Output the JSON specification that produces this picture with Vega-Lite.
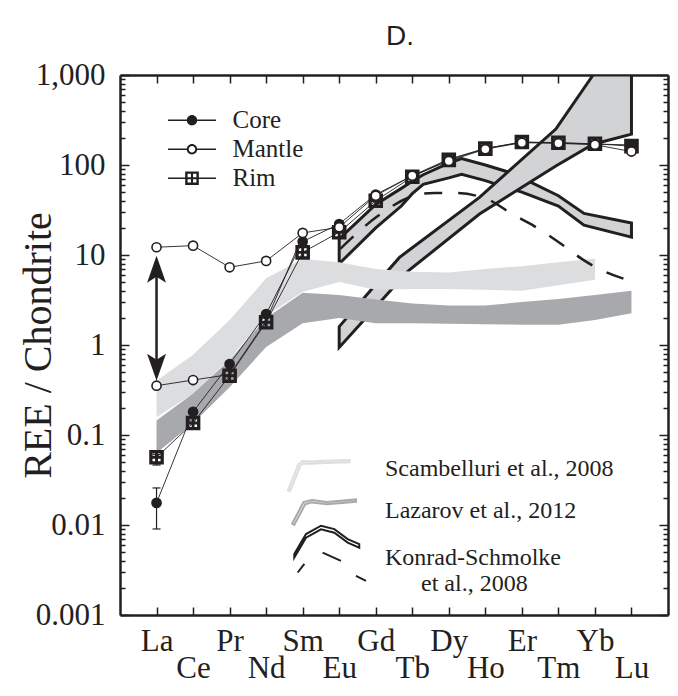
{
  "$schema": "https://vega.github.io/schema/vega-lite/v6.json",
  "width": 548,
  "height": 540,
  "autosize": "none",
  "padding": {"left": 120, "top": 75, "right": 10, "bottom": 81},
  "title": {"text": "D.", "font": "Liberation Sans", "fontSize": 28, "fontWeight": "normal", "color": "#231f20", "anchor": "middle", "offset": 25, "baseline": "alphabetic", "dx": 6, "dy": 39},
  "config": {
    "view": {"stroke": null},
    "axis": {"domainColor": "#231f20", "domainWidth": 2.5, "tickColor": "#231f20", "tickWidth": 1.5, "labelColor": "#231f20", "labelFont": "Liberation Serif", "labelFontSize": 31, "titleFont": "Liberation Serif", "titleColor": "#231f20", "grid": false}
  },
  "datasets": {
    "pts": [
      {"x": 0, "v": 0.0565, "series": "Rim", "profile": "Rim"},
      {"x": 1, "v": 0.136, "series": "Rim", "profile": "Rim"},
      {"x": 2, "v": 0.456, "series": "Rim", "profile": "Rim"},
      {"x": 3, "v": 1.79, "series": "Rim", "profile": "Rim"},
      {"x": 4, "v": 10.7, "series": "Rim", "profile": "Rim"},
      {"x": 5, "v": 17.9, "series": "Rim", "profile": "Rim"},
      {"x": 6, "v": 40, "series": "Rim", "profile": "Rim"},
      {"x": 7, "v": 74, "series": "Rim", "profile": "Rim"},
      {"x": 8, "v": 114, "series": "Rim", "profile": "Rim"},
      {"x": 9, "v": 152, "series": "Rim", "profile": "Rim"},
      {"x": 10, "v": 180, "series": "Rim", "profile": "Rim"},
      {"x": 11, "v": 177, "series": "Rim", "profile": "Rim"},
      {"x": 12, "v": 172, "series": "Rim", "profile": "Rim"},
      {"x": 13, "v": 162, "series": "Rim", "profile": "Rim"},
      {"x": 0, "v": 0.0176, "series": "Core", "profile": "Core"},
      {"x": 1, "v": 0.181, "series": "Core", "profile": "Core"},
      {"x": 2, "v": 0.615, "series": "Core", "profile": "Core"},
      {"x": 3, "v": 2.21, "series": "Core", "profile": "Core"},
      {"x": 4, "v": 14.1, "series": "Core", "profile": "Core"},
      {"x": 5, "v": 22.1, "series": "Core", "profile": "Core"},
      {"x": 6, "v": 47, "series": "Core", "profile": "Core"},
      {"x": 7, "v": 76, "series": "Core", "profile": "Core"},
      {"x": 8, "v": 116, "series": "Core", "profile": "Core"},
      {"x": 9, "v": 153, "series": "Core", "profile": "Core"},
      {"x": 10, "v": 179, "series": "Core", "profile": "Core"},
      {"x": 11, "v": 176, "series": "Core", "profile": "Core"},
      {"x": 12, "v": 171, "series": "Core", "profile": "Core"},
      {"x": 13, "v": 167, "series": "Core", "profile": "Core"},
      {"x": 0, "v": 12.2, "series": "Mantle", "profile": "MantleA"},
      {"x": 1, "v": 12.7, "series": "Mantle", "profile": "MantleA"},
      {"x": 2, "v": 7.3, "series": "Mantle", "profile": "MantleA"},
      {"x": 3, "v": 8.6, "series": "Mantle", "profile": "MantleA"},
      {"x": 4, "v": 17.6, "series": "Mantle", "profile": "MantleA"},
      {"x": 5, "v": 20.3, "series": "Mantle", "profile": "MantleA"},
      {"x": 6, "v": 45.6, "series": "Mantle", "profile": "MantleA"},
      {"x": 7, "v": 76, "series": "Mantle", "profile": "MantleA"},
      {"x": 8, "v": 111, "series": "Mantle", "profile": "MantleA"},
      {"x": 9, "v": 150, "series": "Mantle", "profile": "MantleA"},
      {"x": 10, "v": 177, "series": "Mantle", "profile": "MantleA"},
      {"x": 11, "v": 174, "series": "Mantle", "profile": "MantleA"},
      {"x": 12, "v": 168, "series": "Mantle", "profile": "MantleA"},
      {"x": 13, "v": 141, "series": "Mantle", "profile": "MantleA"},
      {"x": 0, "v": 0.353, "series": "Mantle", "profile": "MantleB"},
      {"x": 1, "v": 0.408, "series": "Mantle", "profile": "MantleB"},
      {"x": 2, "v": 0.47, "series": "Mantle", "profile": "MantleB"},
      {"x": 3, "v": 1.85, "series": "Mantle", "profile": "MantleB"},
      {"x": 4, "v": 16.5, "series": "Mantle", "profile": "MantleB"}
    ],
    "hump": [
      {"x": 5, "hi": 15.1, "lo": 8.0},
      {"x": 6, "hi": 36.5, "lo": 20},
      {"x": 6.7, "hi": 55, "lo": 35},
      {"x": 7, "hi": 66, "lo": 48},
      {"x": 7.3, "hi": 78, "lo": 61},
      {"x": 8, "hi": 105, "lo": 72},
      {"x": 8.35, "hi": 118, "lo": 79},
      {"x": 9, "hi": 100, "lo": 67},
      {"x": 9.65, "hi": 83, "lo": 55},
      {"x": 10, "hi": 72, "lo": 50},
      {"x": 11, "hi": 45.6, "lo": 35},
      {"x": 11.7, "hi": 29, "lo": 21.5},
      {"x": 13, "hi": 22.7, "lo": 15.8}
    ],
    "rise": [
      {"x": 5, "hi": 1.6, "lo": 0.94},
      {"x": 6, "hi": 4.7, "lo": 2.64},
      {"x": 6.65, "hi": 9.4, "lo": 5.2},
      {"x": 6.9, "hi": 11.2, "lo": 6.7},
      {"x": 8.84, "hi": 43.7, "lo": 28.5},
      {"x": 10.93, "hi": 251, "lo": 97.7},
      {"x": 11.95, "hi": 1000, "lo": 170},
      {"x": 13, "hi": 1000, "lo": 220}
    ],
    "refs": [
      {"ref": "Scambelluri et al., 2008", "x": 0, "hi": 0.40, "lo": 0.157},
      {"ref": "Scambelluri et al., 2008", "x": 1, "hi": 0.78, "lo": 0.29},
      {"ref": "Scambelluri et al., 2008", "x": 2, "hi": 1.9, "lo": 0.70},
      {"ref": "Scambelluri et al., 2008", "x": 3, "hi": 5.5, "lo": 2.1},
      {"ref": "Scambelluri et al., 2008", "x": 4, "hi": 9.0, "lo": 3.9},
      {"ref": "Scambelluri et al., 2008", "x": 5, "hi": 8.3, "lo": 5.0},
      {"ref": "Scambelluri et al., 2008", "x": 6, "hi": 7.0, "lo": 4.1},
      {"ref": "Scambelluri et al., 2008", "x": 7, "hi": 6.5, "lo": 4.2},
      {"ref": "Scambelluri et al., 2008", "x": 8, "hi": 6.4, "lo": 4.2},
      {"ref": "Scambelluri et al., 2008", "x": 9, "hi": 7.0, "lo": 4.1},
      {"ref": "Scambelluri et al., 2008", "x": 10, "hi": 7.5, "lo": 4.0},
      {"ref": "Scambelluri et al., 2008", "x": 11, "hi": 8.3, "lo": 4.6},
      {"ref": "Scambelluri et al., 2008", "x": 12, "hi": 9.1, "lo": 5.3},
      {"ref": "Lazarov et al., 2012", "x": 0, "hi": 0.145, "lo": 0.063},
      {"ref": "Lazarov et al., 2012", "x": 1, "hi": 0.29, "lo": 0.135},
      {"ref": "Lazarov et al., 2012", "x": 2, "hi": 0.68, "lo": 0.34},
      {"ref": "Lazarov et al., 2012", "x": 3, "hi": 2.0, "lo": 0.95},
      {"ref": "Lazarov et al., 2012", "x": 4, "hi": 3.8, "lo": 1.75},
      {"ref": "Lazarov et al., 2012", "x": 5, "hi": 3.6, "lo": 2.0},
      {"ref": "Lazarov et al., 2012", "x": 6, "hi": 3.2, "lo": 1.75},
      {"ref": "Lazarov et al., 2012", "x": 7, "hi": 2.9, "lo": 1.75},
      {"ref": "Lazarov et al., 2012", "x": 8, "hi": 2.75, "lo": 1.72},
      {"ref": "Lazarov et al., 2012", "x": 9, "hi": 2.75, "lo": 1.70},
      {"ref": "Lazarov et al., 2012", "x": 10, "hi": 3.0, "lo": 1.68},
      {"ref": "Lazarov et al., 2012", "x": 11, "hi": 3.25, "lo": 1.68},
      {"ref": "Lazarov et al., 2012", "x": 12, "hi": 3.6, "lo": 1.9},
      {"ref": "Lazarov et al., 2012", "x": 13, "hi": 4.0, "lo": 2.25}
    ],
    "dash": [
      {"x": 5.03, "v": 11.7},
      {"x": 6.01, "v": 26.2},
      {"x": 7.01, "v": 45},
      {"x": 7.6, "v": 49},
      {"x": 8.15, "v": 49},
      {"x": 9.1, "v": 41},
      {"x": 9.7, "v": 29},
      {"x": 10.25, "v": 22},
      {"x": 10.75, "v": 16.4},
      {"x": 11.2, "v": 12.2},
      {"x": 11.65, "v": 9.0},
      {"x": 12.11, "v": 7.0},
      {"x": 12.7, "v": 5.6},
      {"x": 12.98, "v": 5.2}
    ],
    "err": [
      {"x": 0, "lo": 0.00903, "hi": 0.0258, "series": "Core"},
      {"x": 0, "lo": 0.0464, "hi": 0.061, "series": "Rim"}
    ],
    "arrow": [
      {"x": 0, "top": 6.95, "bottom": 0.566}
    ]
  },
  "resolve": {"scale": {"fill": "independent", "shape": "independent", "stroke": "independent"}, "axis": {"x": "independent", "y": "independent"}},
  "layer": [
    {
      "data": {"name": "hump"},
      "mark": {"type": "area", "fill": "#d1d3d4", "stroke": "#231f20", "strokeWidth": 3, "strokeJoin": "miter"},
      "encoding": {
        "x": {"field": "x", "type": "quantitative", "scale": {"domain": [-1, 14], "nice": false, "zero": false},
          "axis": {"orient": "bottom", "values": [0,1,2,3,4,5,6,7,8,9,10,11,12,13], "title": null, "tickSize": -8, "labelPadding": 19, "labelBaseline": "top", "labelLineHeight": 27, "labelFlush": false, "labelOverlap": false,
            "labelExpr": "datum.value % 2 === 0 ? ['La','Ce','Pr','Nd','Sm','Eu','Gd','Tb','Dy','Ho','Er','Tm','Yb','Lu'][datum.value] : ['', ['La','Ce','Pr','Nd','Sm','Eu','Gd','Tb','Dy','Ho','Er','Tm','Yb','Lu'][datum.value]]"}},
        "y": {"field": "hi", "type": "quantitative", "scale": {"type": "log", "domain": [0.001, 1000], "nice": false},
          "axis": {"orient": "left", "values": [0.001,0.002,0.003,0.004,0.005,0.006,0.007,0.008,0.009,0.01,0.02,0.03,0.04,0.05,0.06,0.07,0.08,0.09,0.1,0.2,0.3,0.4,0.5,0.6,0.7,0.8,0.9,1,2,3,4,5,6,7,8,9,10,20,30,40,50,60,70,80,90,100,200,300,400,500,600,700,800,900,1000],
            "labelExpr": "abs(log(datum.value)/LN10 - round(log(datum.value)/LN10)) < 0.001 ? format(datum.value, ',') : ''",
            "tickSize": {"condition": {"test": "abs(log(datum.value)/LN10 - round(log(datum.value)/LN10)) < 0.001", "value": -9}, "value": -5},
            "labelPadding": 24, "labelOverlap": false, "labelFlush": false,
            "title": "REE / Chondrite", "titleFontSize": 40, "titleFontWeight": "normal", "titleAngle": -90, "titleX": -82, "titleY": 270, "titleAlign": "center", "titleBaseline": "middle"}},
        "y2": {"field": "lo"}
      }
    },
    {
      "data": {"name": "rise"},
      "mark": {"type": "area", "fill": "#d1d3d4", "stroke": "#231f20", "strokeWidth": 3, "strokeJoin": "miter", "clip": true},
      "encoding": {
        "x": {"field": "x", "type": "quantitative", "axis": null},
        "y": {"field": "hi", "type": "quantitative", "scale": {"type": "log"}, "axis": null},
        "y2": {"field": "lo"}
      }
    },
    {
      "data": {"name": "refs"},
      "mark": {"type": "area", "opacity": 1},
      "encoding": {
        "x": {"field": "x", "type": "quantitative", "axis": null},
        "y": {"field": "hi", "type": "quantitative", "scale": {"type": "log"}, "axis": null},
        "y2": {"field": "lo"},
        "fill": {"field": "ref", "type": "nominal",
          "scale": {"domain": ["Scambelluri et al., 2008", "Lazarov et al., 2012"], "range": ["#dcdddf", "#a7a9ac"]},
          "legend": null}
      }
    },
    {
      "data": {"name": "refs"},
      "transform": [{"filter": "datum.x === 0"}],
      "mark": {"type": "point", "filled": true, "opacity": 0, "size": 900, "strokeWidth": 2},
      "encoding": {
        "x": {"field": "x", "type": "quantitative", "axis": null},
        "y": {"field": "hi", "type": "quantitative", "scale": {"type": "log"}, "axis": null},
        "shape": {"field": "ref", "type": "nominal",
          "scale": {"domain": ["Scambelluri et al., 2008", "Lazarov et al., 2012", "Konrad-Schmolke et al., 2008"],
            "range": ["M-2.2,1.39L-1.52,-0.34L-1.22,-0.56L-0.6,-0.53L0.3,-0.58L1.9,-0.63L1.9,-0.47L0.3,-0.42L-0.6,-0.37L-1.18,-0.4L-1.38,-0.24L-2.06,1.45Z",
                      "M-1.92,0.81L-1.17,-0.62L-0.6,-0.76L0.4,-0.63L2.33,-0.8L2.33,-0.64L0.4,-0.47L-0.6,-0.6L-1.05,-0.48L-1.78,0.89Z",
                      "M-1.78,-0.29L-1,-1.62L0,-2.18L0.89,-1.95L1.78,-1.29L2.55,-0.95L2.55,-0.71L1.78,-1.05L0.89,-1.71L0,-1.94L-1,-1.38L-1.78,-0.05Z M-1.55,0.94L-1.11,0.37 M0.11,-0.39L1.33,0.17 M2.33,1.17L3,1.5"]}},
        "stroke": {"field": "ref", "type": "nominal",
          "scale": {"domain": ["Scambelluri et al., 2008", "Lazarov et al., 2012", "Konrad-Schmolke et al., 2008"], "range": ["#dcdddf", "#a7a9ac", "#231f20"]}},
        "fill": {"field": "ref", "type": "nominal",
          "scale": {"domain": ["Scambelluri et al., 2008", "Lazarov et al., 2012", "Konrad-Schmolke et al., 2008"], "range": ["#dcdddf", "#a7a9ac", "#d1d3d4"]},
          "legend": {"orient": "none", "legendX": 185, "legendY": 378.4, "direction": "vertical", "title": null, "padding": 0, "labelFont": "Liberation Serif", "labelFontSize": 24, "labelColor": "#231f20", "labelLimit": 0, "labelLineHeight": 33, "symbolSize": 900, "labelOffset": 48, "rowPadding": -8, "symbolOpacity": 1, "symbolStrokeWidth": 2,
            "labelExpr": "datum.label === 'Konrad-Schmolke et al., 2008' ? ['Konrad-Schmolke', '\u200b\u00a0\u00a0\u00a0\u00a0\u00a0\u00a0et al., 2008'] : datum.label"}
        }
      }
    },
    {
      "data": {"name": "dash"},
      "mark": {"type": "line", "color": "#231f20", "strokeWidth": 2.5, "strokeDash": [18, 16], "interpolate": "monotone"},
      "encoding": {
        "x": {"field": "x", "type": "quantitative", "axis": {"orient": "top", "values": [0,1,2,3,4,5,6,7,8,9,10,11,12,13], "labels": false, "title": null, "tickSize": -8}},
        "y": {"field": "v", "type": "quantitative", "scale": {"type": "log"},
          "axis": {"orient": "right", "values": [0.001,0.002,0.003,0.004,0.005,0.006,0.007,0.008,0.009,0.01,0.02,0.03,0.04,0.05,0.06,0.07,0.08,0.09,0.1,0.2,0.3,0.4,0.5,0.6,0.7,0.8,0.9,1,2,3,4,5,6,7,8,9,10,20,30,40,50,60,70,80,90,100,200,300,400,500,600,700,800,900,1000], "labels": false, "title": null,
            "tickSize": {"condition": {"test": "abs(log(datum.value)/LN10 - round(log(datum.value)/LN10)) < 0.001", "value": -9}, "value": -5}}}
      }
    },
    {
      "data": {"name": "pts"},
      "mark": {"type": "line", "color": "#231f20", "strokeWidth": 0.9},
      "encoding": {
        "x": {"field": "x", "type": "quantitative", "axis": null},
        "y": {"field": "v", "type": "quantitative", "scale": {"type": "log"}, "axis": null},
        "detail": {"field": "profile", "type": "nominal"}
      }
    },
    {
      "data": {"name": "err"},
      "mark": {"type": "rule", "color": "#231f20", "strokeWidth": 1.2},
      "encoding": {
        "x": {"field": "x", "type": "quantitative", "axis": null},
        "y": {"field": "lo", "type": "quantitative", "scale": {"type": "log"}, "axis": null},
        "y2": {"field": "hi"}
      }
    },
    {
      "data": {"name": "err"},
      "transform": [{"fold": ["lo", "hi"], "as": ["end", "cv"]}],
      "mark": {"type": "tick", "orient": "horizontal", "color": "#231f20", "size": 8, "thickness": 1.2, "opacity": 1},
      "encoding": {
        "x": {"field": "x", "type": "quantitative", "axis": null},
        "y": {"field": "cv", "type": "quantitative", "scale": {"type": "log"}, "axis": null}
      }
    },
    {
      "data": {"name": "arrow"},
      "mark": {"type": "rule", "color": "#231f20", "strokeWidth": 2.5},
      "encoding": {
        "x": {"field": "x", "type": "quantitative", "axis": null},
        "y": {"field": "top", "type": "quantitative", "scale": {"type": "log"}, "axis": null},
        "y2": {"field": "bottom"}
      }
    },
    {
      "data": {"name": "arrow"},
      "mark": {"type": "point", "filled": true, "color": "#231f20", "opacity": 1, "size": 729, "shape": "M0,-1L0.7,1L0,0.55L-0.7,1Z"},
      "encoding": {
        "x": {"field": "x", "type": "quantitative", "axis": null},
        "y": {"field": "top", "type": "quantitative", "scale": {"type": "log"}, "axis": null}
      }
    },
    {
      "data": {"name": "arrow"},
      "mark": {"type": "point", "filled": true, "color": "#231f20", "opacity": 1, "size": 729, "shape": "M0,1L0.7,-1L0,-0.55L-0.7,-1Z"},
      "encoding": {
        "x": {"field": "x", "type": "quantitative", "axis": null},
        "y": {"field": "bottom", "type": "quantitative", "scale": {"type": "log"}, "axis": null}
      }
    },
    {
      "data": {"name": "pts"},
      "transform": [{"filter": "datum.profile !== 'MantleB' || datum.x <= 1"}],
      "mark": {"type": "point", "filled": true, "stroke": "#231f20", "strokeWidth": 1.6, "opacity": 1, "size": 169},
      "encoding": {
        "x": {"field": "x", "type": "quantitative", "axis": null},
        "y": {"field": "v", "type": "quantitative", "scale": {"type": "log"}, "axis": null},
        "shape": {"field": "series", "type": "nominal",
          "scale": {"domain": ["Core", "Mantle", "Rim"], "range": ["M-0.7,0A0.7,0.7,0,1,1,0.7,0A0.7,0.7,0,1,1,-0.7,0Z", "M-0.7,0A0.7,0.7,0,1,1,0.7,0A0.7,0.7,0,1,1,-0.7,0Z", "M-1,-1L1,-1L1,1L-1,1Z M-0.74,-0.74L-0.74,-0.1L-0.1,-0.1L-0.1,-0.74Z M0.1,-0.74L0.1,-0.1L0.74,-0.1L0.74,-0.74Z M-0.74,0.1L-0.74,0.74L-0.1,0.74L-0.1,0.1Z M0.1,0.1L0.1,0.74L0.74,0.74L0.74,0.1Z"]},
          "legend": null},
        "fill": {"field": "series", "type": "nominal",
          "scale": {"domain": ["Core", "Mantle", "Rim"], "range": ["#231f20", "#ffffff", "#231f20"]},
          "legend": null}
      }
    },
    {
      "data": {"name": "pts"},
      "transform": [{"filter": "datum.x === 13 && datum.profile !== 'MantleB'"}],
      "mark": {"type": "point", "filled": true, "fill": "#231f20", "opacity": 0, "size": 169},
      "encoding": {
        "x": {"field": "x", "type": "quantitative", "axis": null},
        "y": {"field": "v", "type": "quantitative", "scale": {"type": "log"}, "axis": null},
        "shape": {"field": "series", "type": "nominal",
          "scale": {"domain": ["Core", "Mantle", "Rim"], "range": [
            "M-0.8,0A0.8,0.8,0,1,1,0.8,0A0.8,0.8,0,1,1,-0.8,0Z M-3.7,-0.11L-0.75,-0.11L-0.75,0.11L-3.7,0.11Z M0.75,-0.11L3.7,-0.11L3.7,0.11L0.75,0.11Z",
            "M-0.8,0A0.8,0.8,0,1,1,0.8,0A0.8,0.8,0,1,1,-0.8,0Z M-0.5,0A0.5,0.5,0,1,0,0.5,0A0.5,0.5,0,1,0,-0.5,0Z M-3.7,-0.11L-0.78,-0.11L-0.78,0.11L-3.7,0.11Z M0.78,-0.11L3.7,-0.11L3.7,0.11L0.78,0.11Z",
            "M-1.05,-1.05L1.05,-1.05L1.05,1.05L-1.05,1.05Z M-0.68,-0.68L-0.68,-0.16L-0.16,-0.16L-0.16,-0.68Z M0.16,-0.68L0.16,-0.16L0.68,-0.16L0.68,-0.68Z M-0.68,0.16L-0.68,0.68L-0.16,0.68L-0.16,0.16Z M0.16,0.16L0.16,0.68L0.68,0.68L0.68,0.16Z M-3.7,-0.11L-1,-0.11L-1,0.11L-3.7,0.11Z M1,-0.11L3.7,-0.11L3.7,0.11L1,0.11Z"]},
          "legend": {"orient": "none", "legendX": 59.5, "legendY": 32.7, "direction": "vertical", "title": null, "padding": 0, "labelFont": "Liberation Serif", "labelFontSize": 25, "labelColor": "#231f20", "symbolSize": 169, "labelOffset": 28, "rowPadding": 3, "symbolOpacity": 1, "symbolFillColor": "#231f20", "symbolStrokeColor": "#231f20", "symbolStrokeWidth": 0}
        }
      }
    }
  ]
}
